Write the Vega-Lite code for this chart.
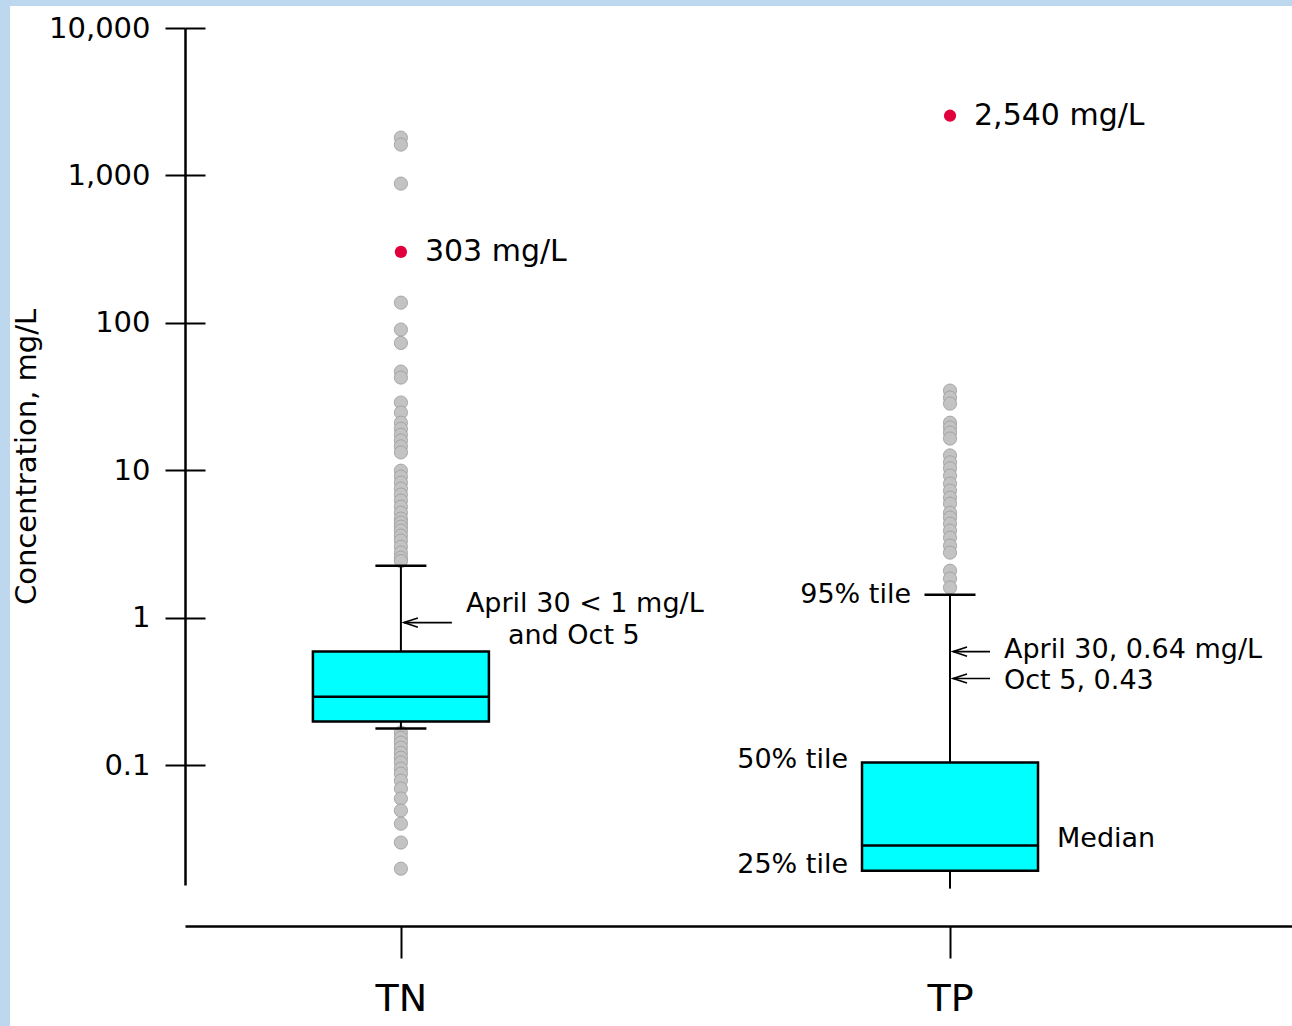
{
  "$schema": "https://vega.github.io/schema/vega-lite/v6.json",
  "width": 1282,
  "height": 1020,
  "autosize": {"type": "none"},
  "padding": {"left": 10, "top": 6, "right": 0, "bottom": 0},
  "background": "#bdd7ee",
  "config": {"font": "DejaVu Sans", "view": {"fill": "white", "stroke": null}},
  "datasets": {
    "outliers": [
      {"cat": "TN", "v": 1804}, {"cat": "TN", "v": 1618}, {"cat": "TN", "v": 880},
      {"cat": "TN", "v": 137}, {"cat": "TN", "v": 90}, {"cat": "TN", "v": 73},
      {"cat": "TN", "v": 46.7}, {"cat": "TN", "v": 42.5}, {"cat": "TN", "v": 28.8},
      {"cat": "TN", "v": 24.6}, {"cat": "TN", "v": 21.0}, {"cat": "TN", "v": 19.1},
      {"cat": "TN", "v": 17.4}, {"cat": "TN", "v": 15.9}, {"cat": "TN", "v": 14.5},
      {"cat": "TN", "v": 13.2}, {"cat": "TN", "v": 9.93}, {"cat": "TN", "v": 9.05},
      {"cat": "TN", "v": 8.24}, {"cat": "TN", "v": 7.5}, {"cat": "TN", "v": 6.83},
      {"cat": "TN", "v": 6.22}, {"cat": "TN", "v": 5.66}, {"cat": "TN", "v": 5.15},
      {"cat": "TN", "v": 4.69}, {"cat": "TN", "v": 4.41}, {"cat": "TN", "v": 4.14},
      {"cat": "TN", "v": 3.89}, {"cat": "TN", "v": 3.6}, {"cat": "TN", "v": 3.33},
      {"cat": "TN", "v": 3.03}, {"cat": "TN", "v": 2.76}, {"cat": "TN", "v": 2.55},
      {"cat": "TN", "v": 2.42},
      {"cat": "TN", "v": 0.166}, {"cat": "TN", "v": 0.153}, {"cat": "TN", "v": 0.142},
      {"cat": "TN", "v": 0.131}, {"cat": "TN", "v": 0.121}, {"cat": "TN", "v": 0.112},
      {"cat": "TN", "v": 0.104}, {"cat": "TN", "v": 0.0945}, {"cat": "TN", "v": 0.0874},
      {"cat": "TN", "v": 0.0784}, {"cat": "TN", "v": 0.0692}, {"cat": "TN", "v": 0.0592},
      {"cat": "TN", "v": 0.0491}, {"cat": "TN", "v": 0.04}, {"cat": "TN", "v": 0.0298},
      {"cat": "TN", "v": 0.0198},
      {"cat": "TP", "v": 34.7}, {"cat": "TP", "v": 31.1}, {"cat": "TP", "v": 28.3},
      {"cat": "TP", "v": 21.0}, {"cat": "TP", "v": 19.5}, {"cat": "TP", "v": 18.0},
      {"cat": "TP", "v": 16.4}, {"cat": "TP", "v": 12.6}, {"cat": "TP", "v": 11.3},
      {"cat": "TP", "v": 10.3}, {"cat": "TP", "v": 9.19}, {"cat": "TP", "v": 8.11},
      {"cat": "TP", "v": 7.27}, {"cat": "TP", "v": 6.52}, {"cat": "TP", "v": 5.93},
      {"cat": "TP", "v": 5.15}, {"cat": "TP", "v": 4.77}, {"cat": "TP", "v": 4.34},
      {"cat": "TP", "v": 3.89}, {"cat": "TP", "v": 3.49}, {"cat": "TP", "v": 3.08},
      {"cat": "TP", "v": 2.76}, {"cat": "TP", "v": 2.08}, {"cat": "TP", "v": 1.84},
      {"cat": "TP", "v": 1.6}
    ],
    "boxes": [
      {"cat": "TN", "lower": 0.177, "q1": 0.197, "median": 0.291, "q3": 0.588, "upper": 2.25},
      {"cat": "TP", "lower": 0.0145, "q1": 0.0192, "median": 0.0284, "q3": 0.104, "upper": 1.43}
    ],
    "caps": [
      {"cat": "TN", "v": 2.25}, {"cat": "TN", "v": 0.177}, {"cat": "TP", "v": 1.43}
    ],
    "flags": [
      {"cat": "TN", "v": 303, "label": "303 mg/L"},
      {"cat": "TP", "v": 2540, "label": "2,540 mg/L"}
    ],
    "arrows": [
      {"cat": "TN", "v": 0.925, "g": "a"},
      {"cat": "TP", "v": 0.588, "g": "b"},
      {"cat": "TP", "v": 0.386, "g": "b"}
    ],
    "notes": [
      {"cat": "TN", "v": 1.245, "label": "April 30 < 1 mg/L", "g": "c"},
      {"cat": "TN", "v": 0.755, "label": "and Oct 5", "g": "d"},
      {"cat": "TP", "v": 0.0317, "label": "Median", "g": "d"},
      {"cat": "TP", "v": 1.43, "label": "95% tile", "g": "e"},
      {"cat": "TP", "v": 0.607, "label": "April 30, 0.64 mg/L", "g": "f"},
      {"cat": "TP", "v": 0.374, "label": "Oct 5, 0.43", "g": "f"},
      {"cat": "TP", "v": 0.109, "label": "50% tile", "g": "h"},
      {"cat": "TP", "v": 0.0211, "label": "25% tile", "g": "h"}
    ]
  },
  "encoding": {
    "x": {
      "field": "cat",
      "type": "nominal",
      "scale": {"type": "point", "domain": ["TN", "TP"], "range": [175, 1282], "padding": 0.508, "align": 0.387},
      "axis": {
        "orient": "bottom",
        "offset": -100,
        "title": null,
        "labelAngle": 0,
        "labelFontSize": 38,
        "labelColor": "black",
        "labelPadding": 22,
        "tickSize": 32,
        "tickWidth": 2,
        "tickColor": "black",
        "domainColor": "black",
        "domainWidth": 2.5,
        "grid": false
      }
    }
  },
  "resolve": {"axis": {"y": "independent"}},
  "layer": [
    {
      "layer": [
        {
          "data": {"name": "outliers"},
          "mark": {"type": "point", "shape": "circle", "filled": true, "size": 175, "fill": "#c3c3c3", "stroke": "#9a9a9a", "strokeWidth": 0.8, "opacity": 1},
          "encoding": {
            "y": {
              "field": "v",
              "type": "quantitative",
              "scale": {"type": "log", "domain": [0.01535, 10000], "range": [879, 22], "nice": false, "zero": false},
              "axis": {
                "orient": "left",
                "offset": -175,
                "values": [0.1, 1, 10, 100, 1000, 10000],
                "format": ",~g",
                "title": "Concentration, mg/L",
                "titleFontSize": 29,
                "titleFontWeight": "normal",
                "titleColor": "black",
                "titlePadding": 7,
                "labelFontSize": 29,
                "labelColor": "black",
                "labelPadding": 15,
                "tickSize": 20,
                "tickWidth": 2,
                "tickColor": "black",
                "domainColor": "black",
                "domainWidth": 2.5,
                "grid": false
              }
            }
          }
        },
        {
          "data": {"name": "boxes"},
          "mark": {"type": "rule", "color": "black", "strokeWidth": 2},
          "encoding": {"y": {"field": "q3", "type": "quantitative"}, "y2": {"field": "upper"}}
        },
        {
          "data": {"name": "boxes"},
          "mark": {"type": "rule", "color": "black", "strokeWidth": 2},
          "encoding": {"y": {"field": "lower", "type": "quantitative"}, "y2": {"field": "q1"}}
        },
        {
          "data": {"name": "boxes"},
          "mark": {"type": "bar", "size": 176, "fill": "#00ffff", "stroke": "black", "strokeWidth": 2.5, "opacity": 1},
          "encoding": {"y": {"field": "q1", "type": "quantitative"}, "y2": {"field": "q3"}}
        },
        {
          "data": {"name": "boxes"},
          "mark": {"type": "tick", "size": 176, "thickness": 2.5, "color": "black", "opacity": 1},
          "encoding": {"y": {"field": "median", "type": "quantitative"}}
        },
        {
          "data": {"name": "caps"},
          "mark": {"type": "tick", "size": 51, "thickness": 2.5, "color": "black", "opacity": 1},
          "encoding": {"y": {"field": "v", "type": "quantitative"}}
        },
        {
          "data": {"name": "flags"},
          "mark": {"type": "point", "shape": "circle", "filled": true, "size": 150, "fill": "#e2003c", "strokeWidth": 0, "opacity": 1},
          "encoding": {"y": {"field": "v", "type": "quantitative"}}
        },
        {
          "data": {"name": "flags"},
          "mark": {"type": "text", "align": "left", "baseline": "middle", "dx": 24, "fontSize": 30, "color": "black"},
          "encoding": {"y": {"field": "v", "type": "quantitative"}, "text": {"field": "label"}}
        },
        {
          "data": {"name": "arrows"},
          "transform": [{"filter": "datum.g == 'a'"}],
          "mark": {"type": "rule", "color": "black", "strokeWidth": 1.6, "xOffset": 3, "x2Offset": 51},
          "encoding": {"x2": {"field": "cat"}, "y": {"field": "v", "type": "quantitative"}}
        },
        {
          "data": {"name": "arrows"},
          "transform": [{"filter": "datum.g == 'b'"}],
          "mark": {"type": "rule", "color": "black", "strokeWidth": 1.6, "xOffset": 3, "x2Offset": 40},
          "encoding": {"x2": {"field": "cat"}, "y": {"field": "v", "type": "quantitative"}}
        },
        {
          "data": {"name": "arrows"},
          "mark": {"type": "point", "shape": "M1,-0.65L-1,0L1,0.65", "filled": false, "size": 196, "stroke": "black", "strokeWidth": 1.6, "opacity": 1, "xOffset": 10},
          "encoding": {"y": {"field": "v", "type": "quantitative"}}
        },
        {
          "data": {"name": "notes"},
          "transform": [{"filter": "datum.g == 'c'"}],
          "mark": {"type": "text", "align": "left", "baseline": "middle", "dx": 65, "fontSize": 27, "color": "black"},
          "encoding": {"y": {"field": "v", "type": "quantitative"}, "text": {"field": "label"}}
        },
        {
          "data": {"name": "notes"},
          "transform": [{"filter": "datum.g == 'd'"}],
          "mark": {"type": "text", "align": "left", "baseline": "middle", "dx": 107, "fontSize": 27, "color": "black"},
          "encoding": {"y": {"field": "v", "type": "quantitative"}, "text": {"field": "label"}}
        },
        {
          "data": {"name": "notes"},
          "transform": [{"filter": "datum.g == 'e'"}],
          "mark": {"type": "text", "align": "right", "baseline": "middle", "dx": -39, "fontSize": 27, "color": "black"},
          "encoding": {"y": {"field": "v", "type": "quantitative"}, "text": {"field": "label"}}
        },
        {
          "data": {"name": "notes"},
          "transform": [{"filter": "datum.g == 'f'"}],
          "mark": {"type": "text", "align": "left", "baseline": "middle", "dx": 54, "fontSize": 27, "color": "black"},
          "encoding": {"y": {"field": "v", "type": "quantitative"}, "text": {"field": "label"}}
        },
        {
          "data": {"name": "notes"},
          "transform": [{"filter": "datum.g == 'h'"}],
          "mark": {"type": "text", "align": "right", "baseline": "middle", "dx": -102, "fontSize": 27, "color": "black"},
          "encoding": {"y": {"field": "v", "type": "quantitative"}, "text": {"field": "label"}}
        }
      ]
    },
    {
      "data": {"name": "caps"},
      "mark": {"type": "point", "opacity": 0},
      "encoding": {
        "y": {
          "field": "v",
          "type": "quantitative",
          "axis": {
            "orient": "left",
            "offset": -175,
            "values": [0.1, 1, 10, 100, 1000, 10000],
            "title": null,
            "labels": false,
            "domain": false,
            "grid": false,
            "tickSize": -20,
            "tickWidth": 2,
            "tickColor": "black"
          }
        }
      }
    }
  ]
}
